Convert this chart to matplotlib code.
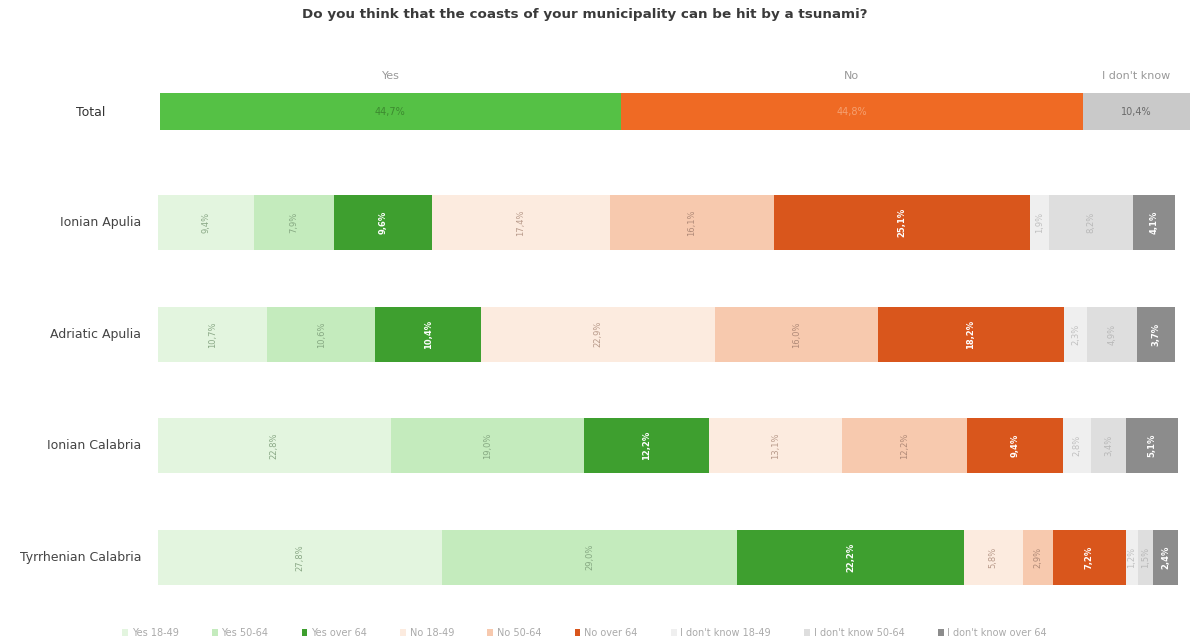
import matplotlib.pyplot as plt
from matplotlib.patches import Patch

title = "Do you think that the coasts of your municipality can be hit by a tsunami?"

# overall answers
total_labels = ["Yes", "No", "I don't know"]
total_values = [44.7, 44.8, 10.4]
total_colors = ["#55c145", "#ef6a24", "#c9c9c9"]
total_text = ["#3d8a30", "#f5a070", "#6a6a6a"]

# answers by area and age group
regions = ["Ionian Apulia", "Adriatic Apulia", "Ionian Calabria", "Tyrrhenian Calabria"]
groups = ["Yes 18-49", "Yes 50-64", "Yes over 64",
          "No 18-49", "No 50-64", "No over 64",
          "I don't know 18-49", "I don't know 50-64", "I don't know over 64"]
ionian_apulia = [9.4, 7.9, 9.6, 17.4, 16.1, 25.1, 1.9, 8.2, 4.1]
adriatic_apulia = [10.7, 10.6, 10.4, 22.9, 16.0, 18.2, 2.3, 4.9, 3.7]
ionian_calabria = [22.8, 19.0, 12.2, 13.1, 12.2, 9.4, 2.8, 3.4, 5.1]
tyrrhenian_calabria = [27.8, 29.0, 22.2, 5.8, 2.9, 7.2, 1.2, 1.5, 2.4]
region_values = [ionian_apulia, adriatic_apulia, ionian_calabria, tyrrhenian_calabria]

group_colors = ["#e3f5df", "#c4ebbd", "#3e9f2f",
                "#fcebdf", "#f7c9ae", "#d9561c",
                "#efefef", "#dedede", "#8c8c8c"]
label_colors = ["#8aa886", "#86a882", "#ffffff",
                "#b89a8a", "#b08a78", "#ffffff",
                "#c0c0c0", "#b8b8b8", "#ffffff"]


def pct(v):
    return f"{v:.1f}%".replace(".", ",")


fig = plt.figure(figsize=(11.93, 6.44), dpi=100)
fig.text(0.49, 0.978, title, ha="center", va="center", fontsize=9.7,
         color="#3a3a3a", fontweight="bold")

# Total bar on its own axes
ax_t = fig.add_axes([0.1341, 0.798, 0.8634, 0.0575])
left = 0
for lab, v, c, tc in zip(total_labels, total_values, total_colors, total_text):
    ax_t.barh(0, v, left=left, height=1, color=c, edgecolor="none")
    ax_t.text(left + v / 2, 0, pct(v), ha="center", va="center", fontsize=7,
              color=tc)
    ax_t.annotate(lab, (left + v / 2, 0.5), xytext=(0, 12),
                  textcoords="offset points", ha="center", va="center",
                  fontsize=8, color="#999999")
    left += v
ax_t.set_xlim(0, sum(total_values))
ax_t.set_ylim(-0.5, 0.5)
ax_t.axis("off")
fig.text(0.076, 1 - 113 / 644, "Total", ha="center", va="center",
         fontsize=9, color="#333333")

# regional bars
ax = fig.add_axes([0.1324, 0.0481, 0.855, 0.6925])
for i, vals in enumerate(region_values):
    left = 0
    for j, v in enumerate(vals):
        ax.barh(i, v, left=left, height=0.49, color=group_colors[j],
                edgecolor="none")
        bold = label_colors[j] == "#ffffff"
        ax.text(left + v / 2, i, pct(v), ha="center", va="center",
                rotation=90, fontsize=6, color=label_colors[j],
                fontweight="bold" if bold else "normal")
        left += v
ax.set_xlim(0, 100)
ax.set_ylim(3.5, -0.5)
ax.axis("off")
for i, r in enumerate(regions):
    ax.annotate(r, (0, i), xytext=(-12, 0), textcoords="offset points",
                ha="right", va="center", fontsize=9, color="#444444")

handles = [Patch(facecolor=c, edgecolor="none") for c in group_colors]
fig.legend(handles, groups, loc="center", bbox_to_anchor=(0.49, 1 - 633 / 644),
           ncol=9, frameon=False, fontsize=7, labelcolor="#aaaaaa",
           handlelength=0.6, handleheight=0.6, handletextpad=0.4,
           columnspacing=3.4)

fig.savefig("out.png", dpi=100, facecolor="white")
